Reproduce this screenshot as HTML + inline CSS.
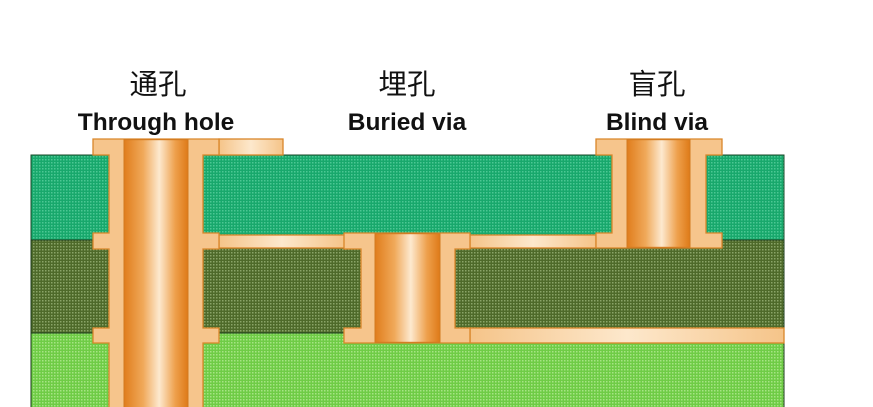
<!DOCTYPE html>
<html><head><meta charset="utf-8"><style>
html,body{margin:0;padding:0;background:#fff;}
svg{display:block}
.cn{font-family:"Liberation Sans","Noto Sans CJK SC",sans-serif;font-size:28.5px;fill:#111;}
.en{font-family:"Liberation Sans",sans-serif;font-weight:bold;font-size:24.5px;fill:#111;}
</style></head><body>
<svg width="873" height="407" viewBox="0 0 873 407" xmlns="http://www.w3.org/2000/svg">
<defs>
<linearGradient id="bar" x1="0" x2="1" y1="0" y2="0">
<stop offset="0" stop-color="#e07d1c"/><stop offset="0.3" stop-color="#f0a95a"/>
<stop offset="0.55" stop-color="#fde9cf"/><stop offset="0.8" stop-color="#eea04c"/><stop offset="1" stop-color="#de7a18"/>
</linearGradient>
<linearGradient id="tr" x1="0" x2="1" y1="0" y2="0">
<stop offset="0" stop-color="#f5c489"/><stop offset="0.5" stop-color="#fde8cc"/><stop offset="1" stop-color="#f5c489"/>
</linearGradient>
<pattern id="d1" width="3" height="3" patternUnits="userSpaceOnUse"><rect width="3" height="3" fill="#18a86c"/><rect width="1.5" height="1.5" fill="#4cc794"/></pattern>
<pattern id="d2" width="3" height="3" patternUnits="userSpaceOnUse"><rect width="3" height="3" fill="#4e6a2a"/><rect width="1.5" height="1.5" fill="#8aa468"/></pattern>
<pattern id="d3" width="3" height="3" patternUnits="userSpaceOnUse"><rect width="3" height="3" fill="#6fcc46"/><rect width="1.5" height="1.5" fill="#a6e484"/></pattern>
</defs>
<text class="cn" x="158" y="94" text-anchor="middle">通孔</text>
<text class="en" x="156" y="130" text-anchor="middle">Through hole</text>
<text class="cn" x="407" y="94" text-anchor="middle">埋孔</text>
<text class="en" x="407" y="130" text-anchor="middle">Buried via</text>
<text class="cn" x="657" y="94" text-anchor="middle">盲孔</text>
<text class="en" x="657" y="130" text-anchor="middle">Blind via</text>

<rect x="31" y="155" width="753" height="85" fill="url(#d1)" stroke="#1a4a2a" stroke-width="1"/>
<rect x="31" y="240" width="753" height="93" fill="url(#d2)" stroke="#1a3a1a" stroke-width="1"/>
<rect x="31" y="333" width="753" height="80" fill="url(#d3)" stroke="#1a3a1a" stroke-width="1"/>

<g stroke="#d9862a" stroke-width="1.3">
<rect x="219" y="139" width="64" height="16" fill="url(#tr)"/>
<rect x="219" y="235" width="126" height="13" fill="url(#tr)"/>
<rect x="470" y="235" width="126" height="13" fill="url(#tr)"/>
<rect x="470" y="328" width="314" height="15" fill="url(#tr)"/>
<g fill="#f6c58c">
<polygon points="93,139 219,139 219,155 203,155 203,233 219,233 219,249 203,249 203,328 219,328 219,343 203,343 203,410 109,410 109,343 93,343 93,328 109,328 109,249 93,249 93,233 109,233 109,155 93,155"/>
<polygon points="344,233 470,233 470,249 455,249 455,328 470,328 470,343 344,343 344,328 361,328 361,249 344,249"/>
<polygon points="596,139 722,139 722,155 706,155 706,233 722,233 722,248 596,248 596,233 612,233 612,155 596,155"/>
</g>
</g>
<g stroke="#d27a20" stroke-width="1">
<rect x="124" y="139.7" width="64" height="270" fill="url(#bar)"/>
<rect x="375" y="233.7" width="65" height="108.6" fill="url(#bar)"/>
<rect x="627" y="139.7" width="63" height="107.6" fill="url(#bar)"/>
</g>
</svg>
</body></html>
